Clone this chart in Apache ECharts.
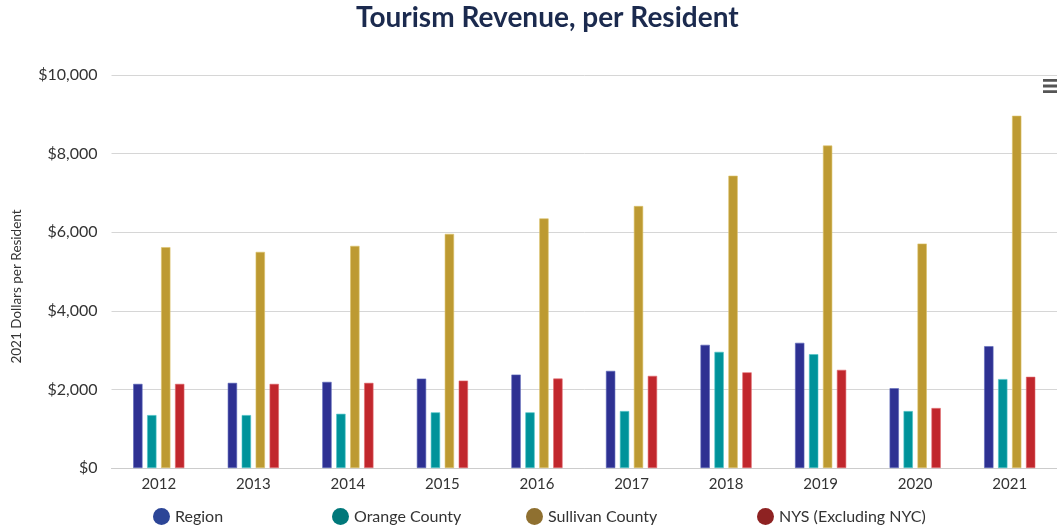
<!DOCTYPE html>
<html>
<head>
<meta charset="utf-8">
<script src="https://cdn.jsdelivr.net/npm/echarts@6/dist/echarts.min.js"></script>
<style>
html,body{margin:0;padding:0;background:#fff;}
#chart{width:1057px;height:531px;}
</style>
</head>
<body>
<div id="chart"></div>
<script>
const years = ['2012','2013','2014','2015','2016','2017','2018','2019','2020','2021'];
const region = [2140,2166,2191,2275,2377,2471,3134,3185,2030,3100];
const orangeCounty = [1346,1346,1379,1415,1415,1449,2955,2896,1449,2262];
const sullivanCounty = [5619,5499,5652,5957,6350,6666,7437,8205,5710,8963];
const nys = [2140,2140,2166,2224,2276,2344,2434,2497,1526,2320];
const yTicks = [0,2000,4000,6000,8000,10000];

const seriesNames = ['Region','Orange County','Sullivan County','NYS (Excluding NYC)'];
const barColors = ['#2e3192','#00939a','#bd9a32','#c1272d'];
const barBorders = ['#5a66b8','#4cc4c8','#dcc36a','#e0686c'];
const legendColors = ['#2c4597','#00787a','#8f7030','#8e2222'];
const legendLefts = [153, 332, 526, 757];
const dataSets = [region, orangeCounty, sullivanCounty, nys];

const font = 'Lato, "Noto Sans", sans-serif';

const chart = echarts.init(document.getElementById('chart'));
chart.setOption({
  animation: false,
  title: {
    text: 'Tourism Revenue, per Resident',
    left: 356,
    top: 4,
    padding: 0,
    textStyle: {fontFamily: font, fontWeight: 'bold', fontSize: 28, color: '#1b2a4e'}
  },
  toolbox: {
    left: 1043, top: 79, itemSize: 14, padding: 0,
    iconStyle: {color: '#555', borderWidth: 0},
    feature: {
      myMenu: {show: true, title: '', icon: 'path://M0,0H20V4H0Z M0,8H20V12H0Z M0,16H20V20H0Z', onclick: function(){}}
    }
  },
  legend: seriesNames.map((n, i) => ({
    data: [{name: n, itemStyle: {color: legendColors[i], borderWidth: 0}}],
    left: legendLefts[i],
    top: 508,
    padding: 0,
    icon: 'circle',
    itemWidth: 17, itemHeight: 17,
    itemStyle: {borderWidth: 0},
    textStyle: {fontFamily: font, fontSize: 16, color: '#333'}
  })),
  grid: {left: 111.5, right: -9.7, top: 75, bottom: 63},
  xAxis: {
    type: 'category',
    data: years,
    axisLine: {lineStyle: {color: '#ccc'}},
    axisTick: {show: false},
    axisLabel: {fontFamily: font, fontSize: 15, color: '#333', margin: 9}
  },
  yAxis: {
    type: 'value',
    min: yTicks[0], max: yTicks[yTicks.length-1], interval: 2000,
    name: '2021 Dollars per Resident',
    nameLocation: 'middle',
    nameGap: 88,
    nameTextStyle: {fontFamily: font, fontSize: 13.5, color: '#333', padding: [0, 30, 0, 0]},
    axisLine: {show: false},
    axisTick: {show: false},
    splitLine: {lineStyle: {color: '#d6d6d6'}},
    axisLabel: {
      fontFamily: font, fontSize: 16, color: '#333', margin: 14,
      formatter: v => '$' + v.toLocaleString('en-US')
    }
  },
  series: dataSets.map((d, i) => ({
    name: seriesNames[i],
    type: 'bar',
    data: d,
    barWidth: 9.3,
    barGap: '50%',
    itemStyle: {color: barColors[i], borderColor: barBorders[i], borderWidth: 0.6}
  }))
});
</script>
</body>
</html>
